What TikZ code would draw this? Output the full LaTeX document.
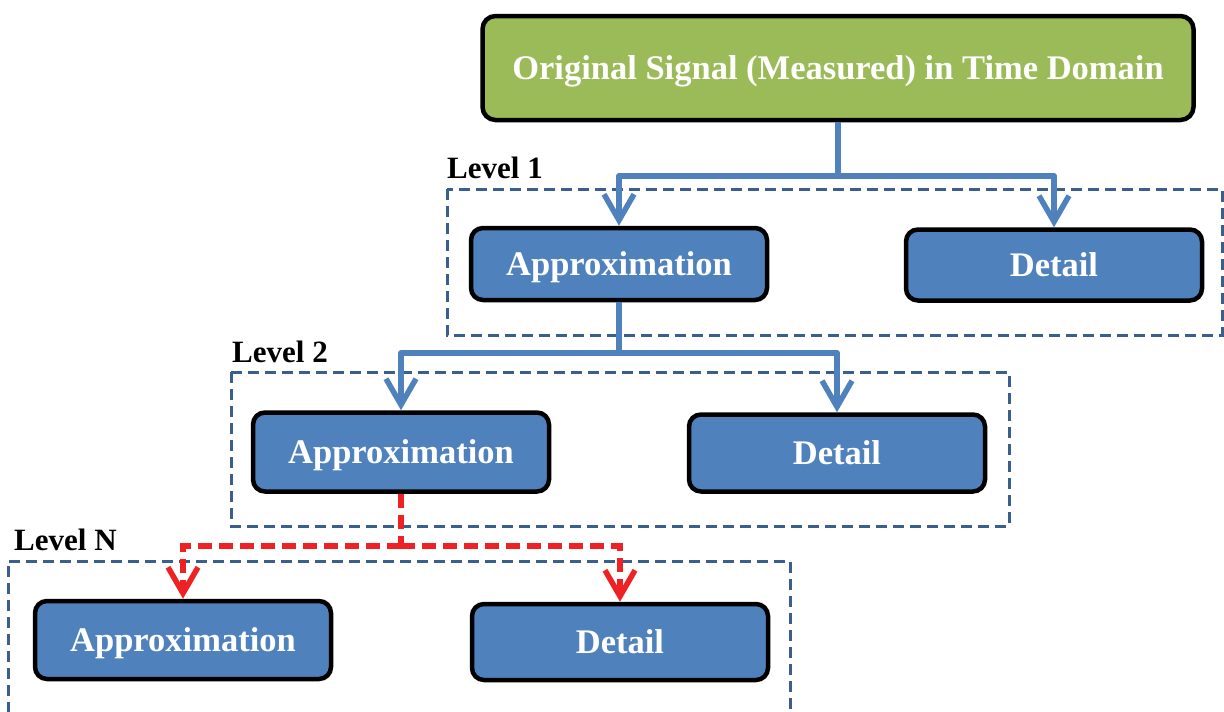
\documentclass[tikz,border=0pt]{standalone}
\usepackage{fontspec}
\setmainfont{Liberation Serif}
\usetikzlibrary{arrows.meta}
\definecolor{boxgreen}{HTML}{9BBB59}
\definecolor{boxblue}{HTML}{4F81BD}
\definecolor{dashblue}{HTML}{3A5F8E}
\definecolor{redline}{HTML}{EE2224}
\tikzset{
  x=1pt, y=-1pt,
  topbox/.style={draw=black, line width=4.5pt, rounded corners=13pt, fill=boxgreen, text depth=0pt,
    minimum width=711pt, minimum height=104pt, text=white, font=\fontsize{34.5}{40}\selectfont\bfseries},
  bluebox/.style={draw=black, line width=4.5pt, rounded corners=12pt, fill=boxblue, text depth=0pt,
    minimum width=296pt, text=white, font=\fontsize{34.5}{40}\selectfont\bfseries},
  levelbox/.style={draw=dashblue, line width=3pt, dash pattern=on 11pt off 6pt},
  levellabel/.style={anchor=base west, inner sep=0pt, font=\fontsize{31}{36}\selectfont\bfseries},
  conn/.style={draw=boxblue, line width=6pt, line join=round},
  redconn/.style={draw=redline, line width=6pt, dash pattern=on 14pt off 7pt},
  tip/.style={-{Straight Barb[length=26pt,width=30pt,line width=5.5pt]}},
}
\begin{document}
\begin{tikzpicture}
\useasboundingbox (0,0) rectangle (1224,712);
% dashed level frames
\draw[levelbox] (447,189) rectangle (1222,335);
\draw[levelbox] (231,372) rectangle (1009,526);
\draw[levelbox] (8,730) -- (8,561) -- (790,561) -- (790,730);
% labels
\node[levellabel] (l1) at (447,178) {Level 1};
\node[levellabel] (l2) at (232,362) {Level 2};
\node[levellabel] (ln) at (14,550) {Level N};
% nodes
\node[topbox] (orig) at (838,68) {Original Signal (Measured) in Time Domain};
\node[bluebox, minimum height=72pt] (a1) at (619,264) {Approximation};
\node[bluebox, minimum height=71pt] (d1) at (1054,265) {Detail};
\node[bluebox, minimum height=79pt] (a2) at (401,452) {Approximation};
\node[bluebox, minimum height=77pt] (d2) at (837,453) {Detail};
\node[bluebox, minimum height=78pt] (an) at (183,640) {Approximation};
\node[bluebox, minimum height=76pt] (dn) at (620,642) {Detail};
% junction points
\coordinate (j1) at (838,176);
\coordinate (j2) at (619,353);
\coordinate (j3) at (401,546);
% connectors
\draw[conn] (orig.south) -- (j1);
\draw[conn,tip] (j1) -| (a1.north);
\draw[conn,tip] (j1) -| (d1.north);
\draw[conn] (a1.south) -- (j2);
\draw[conn,tip] (j2) -| (a2.north);
\draw[conn,tip] (j2) -| (d2.north);
\draw[redconn] (a2.south) -- (j3);
\draw[redconn,tip] (j3) -| (an.north);
\draw[redconn,tip] (j3) -| (dn.north);
\end{tikzpicture}
\end{document}
